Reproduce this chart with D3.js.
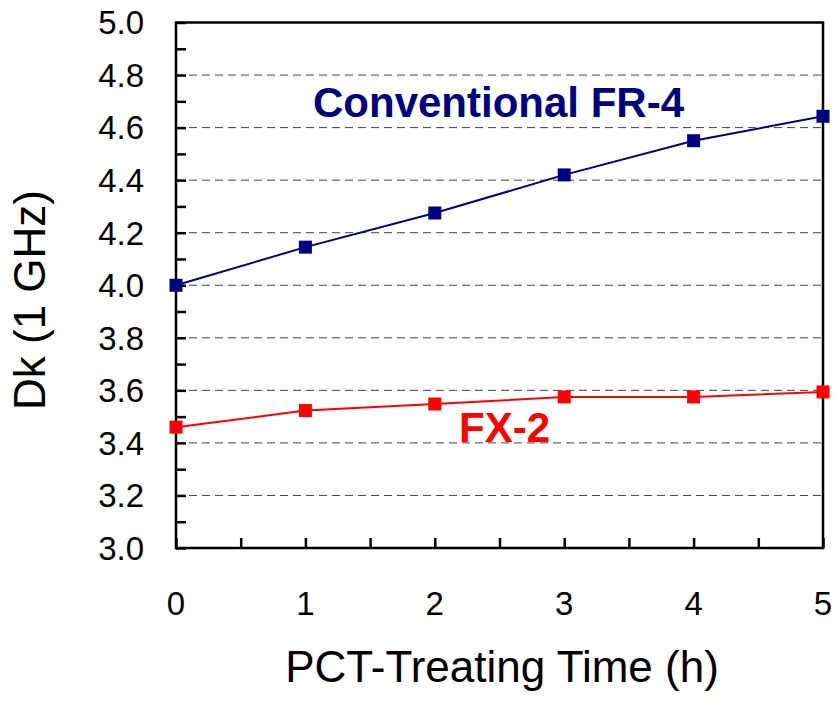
<!DOCTYPE html>
<html>
<head>
<meta charset="utf-8">
<script src="https://cdn.jsdelivr.net/npm/d3@7"></script>
<style>
  body { margin: 0; background: #fff; }
  svg text { font-family: "Liberation Sans", Arial, sans-serif; }
</style>
</head>
<body>
<div id="chart"></div>
<script>
// Dk vs PCT-treating time, two laminates
const hours = [0, 1, 2, 3, 4, 5];
const fr4Values = [4.00, 4.145, 4.275, 4.42, 4.55, 4.643];
const fx2Values = [3.46, 3.523, 3.548, 3.575, 3.575, 3.594];
const yTicks = [3.0, 3.2, 3.4, 3.6, 3.8, 4.0, 4.2, 4.4, 4.6, 4.8, 5.0];
const gridValues = [3.2, 3.4, 3.6, 3.8, 4.0, 4.2, 4.4, 4.6, 4.8];

const W = 836, H = 703;
const margin = { top: 22.5, right: 13, bottom: 155, left: 176 };
const width = W - margin.left - margin.right;
const height = H - margin.top - margin.bottom;

const svg = d3.select('#chart')
    .append('svg')
    .attr('width', W)
    .attr('height', H);

const g = svg.append('g')
    .attr('transform', `translate(${margin.left},${margin.top})`);

const x = d3.scaleLinear().domain([0, 5]).range([0, width]);
const y = d3.scaleLinear().domain([3, 5]).range([height, 0]);

// dashed grid lines
g.selectAll('.grid')
    .data(gridValues)
    .enter()
    .append('line')
    .attr('x1', 0)
    .attr('x2', width)
    .attr('y1', d => y(d))
    .attr('y2', d => y(d))
    .attr('stroke', '#444')
    .attr('stroke-width', 1)
    .attr('stroke-dasharray', '8,5');

// frame
g.append('rect')
    .attr('width', width)
    .attr('height', height)
    .attr('fill', 'none')
    .attr('stroke', '#000')
    .attr('stroke-width', 2.5);

// inner ticks: y every 0.1, x every 0.5
g.append('g')
    .call(d3.axisRight(y).tickValues(d3.range(30, 51).map(v => v / 10)).tickSize(10).tickFormat(''))
    .call(s => s.select('.domain').remove())
    .selectAll('line').attr('stroke-width', 2.5);

g.append('g')
    .attr('transform', `translate(0,${height})`)
    .call(d3.axisTop(x).tickValues(d3.range(0, 11).map(v => v / 2)).tickSize(10).tickFormat(''))
    .call(s => s.select('.domain').remove())
    .selectAll('line').attr('stroke-width', 2.5);

// tick labels
g.selectAll('.ylab')
    .data(yTicks)
    .enter()
    .append('text')
    .attr('x', -32)
    .attr('y', d => y(d))
    .attr('dy', '0.36em')
    .attr('text-anchor', 'end')
    .style('font-size', '33px')
    .text(d => d.toFixed(1));

g.selectAll('.xlab')
    .data(hours)
    .enter()
    .append('text')
    .attr('x', d => x(d))
    .attr('y', height + 67)
    .attr('text-anchor', 'middle')
    .style('font-size', '33px')
    .text(d => d);

// axis titles
svg.append('text')
    .attr('x', 502)
    .attr('y', 682)
    .attr('text-anchor', 'middle')
    .style('font-size', '44px')
    .text('PCT-Treating Time (h)');

svg.append('text')
    .attr('transform', 'translate(45,300) rotate(-90)')
    .attr('text-anchor', 'middle')
    .style('font-size', '44px')
    .text('Dk (1 GHz)');

// series
const series = [
    { values: fr4Values, color: '#000080' },
    { values: fx2Values, color: '#ff0000' }
];

const line = d3.line()
    .x((d, i) => x(hours[i]))
    .y(d => y(d));

series.forEach(s => {
    g.append('path')
        .datum(s.values)
        .attr('fill', 'none')
        .attr('stroke', s.color)
        .attr('stroke-width', 2)
        .attr('d', line);

    g.selectAll(null)
        .data(s.values)
        .enter()
        .append('rect')
        .attr('x', (d, i) => x(hours[i]) - 6.5)
        .attr('y', d => y(d) - 6.5)
        .attr('width', 13)
        .attr('height', 13)
        .attr('fill', s.color);
});

// series labels
svg.append('text')
    .attr('x', 313)
    .attr('y', 117)
    .style('font-size', '42px')
    .style('font-weight', 'bold')
    .attr('fill', '#000080')
    .text('Conventional FR-4');

svg.append('text')
    .attr('x', 459)
    .attr('y', 442)
    .style('font-size', '42px')
    .style('font-weight', 'bold')
    .attr('fill', '#ff0000')
    .text('FX-2');
</script>
</body>
</html>
